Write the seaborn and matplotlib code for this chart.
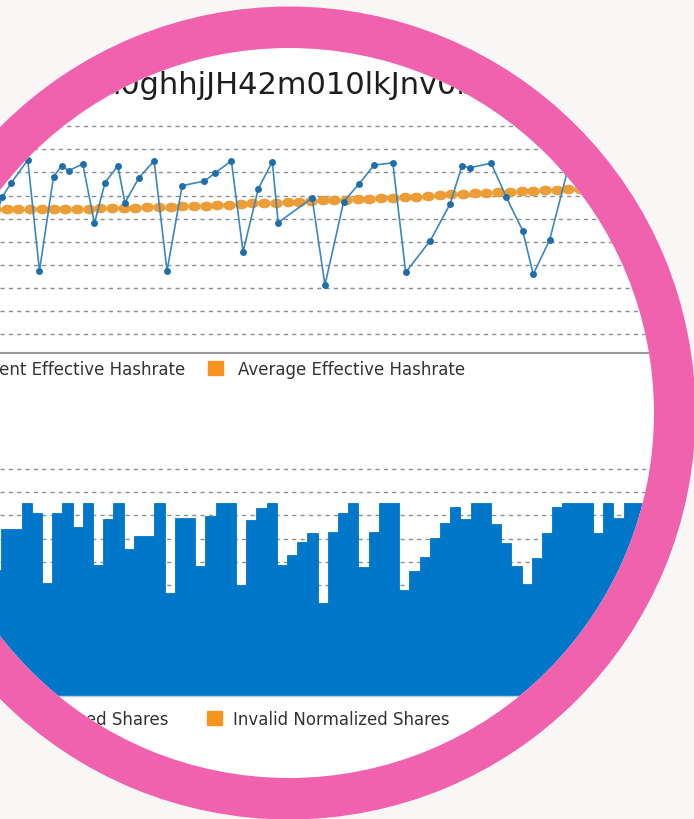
import numpy as np
import matplotlib
matplotlib.use("Agg")
import matplotlib.pyplot as plt
from matplotlib.patches import Wedge, Rectangle
from matplotlib.path import Path
import seaborn as sns

# ---- data ----
# effective hashrate (MH/s), sampled at irregular slots
hash_t = [-1.3, -0.4, 0.4, 1.8, 2.8, 4.0, 4.7, 5.3, 6.5, 7.5, 8.4, 9.5, 10.1, 11.3,
          12.6, 13.7, 15.0, 16.9, 17.8, 19.2, 20.2, 21.5, 22.7, 23.2, 26.1, 27.2,
          28.8, 30.1, 31.4, 33.0, 34.1, 36.2, 37.9, 38.9, 39.6, 41.4, 42.7, 44.1,
          45.0, 46.4, 47.9, 49.3]
hash_v = [55.0, 69.3, 75.6, 85.4, 37.4, 78.2, 82.9, 80.8, 83.7, 58.0, 75.6, 82.9,
          66.9, 77.7, 85.1, 37.4, 74.3, 76.3, 79.7, 85.1, 45.6, 72.9, 84.7, 58.3,
          69.0, 31.3, 67.4, 75.0, 83.2, 84.2, 36.8, 50.5, 66.4, 82.8, 82.1, 84.0,
          69.3, 54.8, 35.9, 50.8, 80.2, 94.0]

# average effective hashrate, one value per slot
avg_t = list(range(-1, 55))
avg_v = [64.1, 64.1, 64.1, 64.2, 64.2, 64.3, 64.3, 64.4, 64.4, 64.5, 64.6, 64.7,
         64.8, 64.9, 65.0, 65.1, 65.3, 65.5, 65.7, 65.9, 66.1, 66.4, 66.6, 66.8,
         67.0, 67.2, 67.4, 67.7, 67.9, 68.1, 68.3, 68.5, 68.7, 68.8, 69.1, 69.3,
         69.5, 69.8, 70.1, 70.6, 70.8, 71.0, 71.3, 71.4, 71.7, 71.9, 72.1, 72.4,
         72.6, 72.7, 72.9, 73.1, 73.3, 73.5, 73.7, 73.9]

# valid normalized shares per slot
shares = [56.5, 74.0, 74.0, 85.2, 80.9, 50.7, 80.9, 85.2, 75.1, 85.2, 58.6, 78.3,
          85.2, 65.4, 71.1, 71.1, 85.2, 46.4, 78.7, 78.7, 58.2, 79.7, 85.2, 85.2,
          50.0, 78.0, 83.0, 85.2, 58.6, 62.9, 68.7, 72.3, 42.4, 72.7, 81.2, 85.2,
          57.6, 73.0, 85.2, 85.2, 47.8, 56.2, 61.9, 70.1, 76.9, 83.8, 78.3, 85.2,
          85.2, 76.3, 68.0, 58.2, 50.3, 61.5, 72.3, 83.8, 85.2, 85.2, 85.2, 72.3,
          85.2, 78.7, 85.2, 85.2, 85.2, 85.2]
share_slot = list(range(len(shares)))

title = "d0ghhjJH42m010lkJnv0b"
top_labels = ["Current Effective Hashrate", "Average Effective Hashrate"]
bottom_labels = ["Valid Normalized Shares", "Invalid Normalized Shares"]

# ---- colours ----
BLUE_LINE = "#3a87c2"
BLUE_DOT = "#1f6eab"
ORANGE_DOT = "#ec9d35"
ORANGE_SQ = "#f7941d"
BAR_BLUE = "#0077c8"
PINK = "#f062ae"
BG = "#f8f7f5"
GRID = "#8e8e8e"

sns.set_theme(style="white")
plt.rcParams["font.family"] = ["DejaVu Sans"]

W, H = 694, 819
fig = plt.figure(figsize=(W / 100, H / 100), dpi=100, facecolor="white")


def px_axes(left, top, right, bottom, **kw):
    return fig.add_axes([left / W, 1 - bottom / H, (right - left) / W, (bottom - top) / H], **kw)


def style_chart(ax, spine_color, spine_lw):
    ax.set_facecolor("none")
    ax.set_yticks(np.arange(10, 101, 10))
    ax.set_xticks([])
    ax.yaxis.grid(True, color=GRID, linestyle=(0, (3, 3)), linewidth=1.0)
    ax.xaxis.grid(False)
    ax.set_axisbelow(True)
    ax.tick_params(left=False, bottom=False, labelleft=False, labelbottom=False)
    ax.set_xlabel("")
    ax.set_ylabel("")
    for s in ["top", "left", "right"]:
        ax.spines[s].set_visible(False)
    ax.spines["bottom"].set_color(spine_color)
    ax.spines["bottom"].set_linewidth(spine_lw)


# top chart: hashrate
ax1 = px_axes(0, 114.75, W, 353.3)
th = np.linspace(0, 2 * np.pi, 40)
ellipse = Path(np.column_stack([1.3 * np.cos(th), np.sin(th)]))
sns.scatterplot(x=avg_t, y=avg_v, ax=ax1, marker=ellipse, s=82, color=ORANGE_DOT,
                linewidth=0, zorder=2)
sns.lineplot(x=hash_t, y=hash_v, ax=ax1, color=BLUE_LINE, linewidth=1.2, marker="o",
             markersize=5, markeredgewidth=0, markerfacecolor=BLUE_DOT, zorder=3)
ax1.set_xlim(-0.573, 58.74)
ax1.set_ylim(1.73, 105)
style_chart(ax1, "#9b9b9b", 1.5)

# bottom chart: shares
ax2 = px_axes(0, 464.4, W, 696)
sns.barplot(x=share_slot, y=shares, ax=ax2, width=1.0, color=BAR_BLUE, saturation=1,
            edgecolor=BAR_BLUE, linewidth=0.6)
ax2.set_xlim(0.373, 68.41)
ax2.set_ylim(2.155, 102)
style_chart(ax2, "#b7cde0", 1.0)

# texts and legends, in pixel coordinates
axt = fig.add_axes([0, 0, 1, 1], zorder=5)
axt.set_xlim(0, W)
axt.set_ylim(H, 0)
axt.axis("off")
axt.patch.set_alpha(0)

axt.text(289, 94, title, ha="center", va="baseline", fontsize=22, color="#1e1e1e")

axt.add_patch(Rectangle((-90, 361), 15, 14, color=BLUE_LINE))
axt.text(185, 375, top_labels[0], ha="right", va="baseline", fontsize=12, color="#333333")
axt.add_patch(Rectangle((208, 361), 15, 14, color=ORANGE_SQ))
axt.text(238, 375, top_labels[1], ha="left", va="baseline", fontsize=12, color="#333333")

axt.add_patch(Rectangle((-90, 711), 15, 14, color=BAR_BLUE))
axt.text(169, 725, bottom_labels[0], ha="right", va="baseline", fontsize=12, color="#333333")
axt.add_patch(Rectangle((207, 711), 15, 14, color=ORANGE_SQ))
axt.text(233, 725, bottom_labels[1], ha="left", va="baseline", fontsize=12, color="#333333")

# magnifier: mask outside the lens and the pink ring
axm = fig.add_axes([0, 0, 1, 1], zorder=10)
axm.set_xlim(0, W)
axm.set_ylim(H, 0)
axm.axis("off")
axm.patch.set_alpha(0)
cx, cy, r_in, r_out = 289, 413, 365, 406.5
axm.add_patch(Wedge((cx, cy), 1500, 0, 360, width=1500 - r_in, facecolor=BG, edgecolor="none"))
axm.add_patch(Wedge((cx, cy), r_out, 0, 360, width=r_out - r_in, facecolor=PINK, edgecolor="none"))

fig.savefig("out.png", dpi=100, facecolor="white")
